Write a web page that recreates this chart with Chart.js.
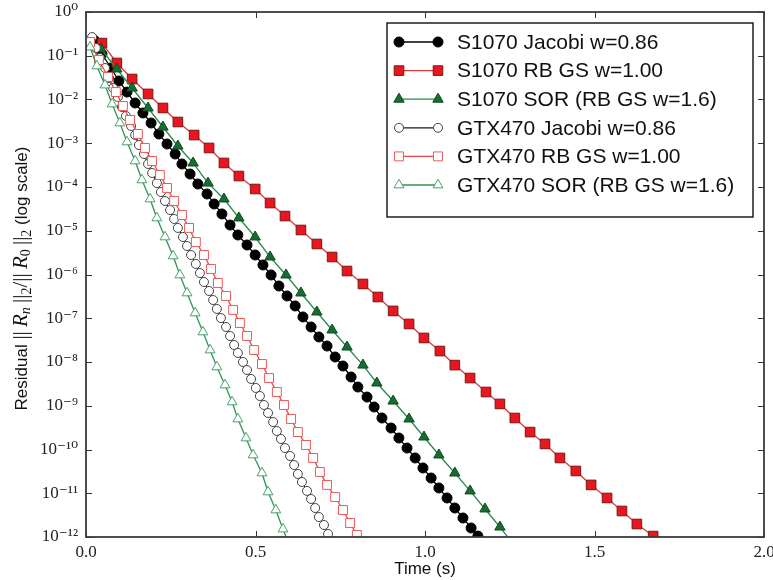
<!DOCTYPE html>
<html>
<head>
<meta charset="utf-8">
<script src="https://cdn.jsdelivr.net/npm/chart.js@4/dist/chart.umd.min.js"></script>
<style>
html,body{margin:0;padding:0;background:#fff;}
#wrap{width:773px;height:580px;}
</style>
</head>
<body>
<div id="wrap"><canvas id="c" width="773" height="580"></canvas></div>
<script>
// ---------------- data ----------------
const seriesLabels = [
  'S1070 Jacobi w=0.86',
  'S1070 RB GS w=1.00',
  'S1070 SOR (RB GS w=1.6)',
  'GTX470 Jacobi w=0.86',
  'GTX470 RB GS w=1.00',
  'GTX470 SOR (RB GS w=1.6)'
];

const s1070JacobiTime = [0.024,0.047,0.074,0.097,0.121,0.145,0.168,0.192,0.215,0.239,0.263,0.283,0.307,0.330,0.357,0.378,0.401,0.425,0.448,0.475,0.499,0.522,0.546,0.569,0.593,0.617,0.640,0.664,0.687,0.711,0.735,0.758,0.782,0.802,0.829,0.850,0.873,0.900,0.923,0.947,0.971,0.994,1.018,1.041,1.065,1.088,1.112,1.136,1.156];
const s1070JacobiResidual = [0.229,0.1096,0.0525,0.0265,0.0148,8.32e-3,4.91e-3,2.90e-3,1.63e-3,9.6e-4,5.68e-4,3.36e-4,1.98e-4,1.17e-4,6.92e-5,4.09e-5,2.42e-5,1.35e-5,8.0e-6,4.72e-6,2.79e-6,1.65e-6,9.75e-7,5.46e-7,3.23e-7,1.91e-7,1.07e-7,6.31e-8,3.73e-8,2.32e-8,1.30e-8,8.1e-9,4.54e-9,2.68e-9,1.58e-9,9.36e-10,5.25e-10,3.10e-10,1.83e-10,1.08e-10,6.4e-11,3.78e-11,2.23e-11,1.32e-11,7.8e-12,4.6e-12,2.72e-12,1.61e-12,1.05e-12];

const s1070RbgsTime = [0.047,0.091,0.136,0.183,0.227,0.271,0.319,0.363,0.407,0.451,0.499,0.543,0.587,0.634,0.681,0.726,0.770,0.817,0.861,0.906,0.953,0.997,1.044,1.088,1.133,1.180,1.221,1.265,1.310,1.354,1.398,1.445,1.490,1.537,1.581,1.625,1.673];
const s1070RbgsResidual = [0.195,0.0683,0.0294,0.0134,6.4e-3,3.06e-3,1.54e-3,7.8e-4,3.54e-4,1.78e-4,9.0e-5,4.3e-5,2.17e-5,1.04e-5,4.98e-6,2.51e-6,1.2e-6,6.07e-7,3.06e-7,1.47e-7,7.4e-8,3.54e-8,1.78e-8,8.5e-9,4.3e-9,2.06e-9,1.1e-9,5.25e-10,2.5e-10,1.34e-10,6.4e-11,3.23e-11,1.55e-11,7.8e-12,3.93e-12,1.98e-12,1.05e-12];

const s1070SorTime = [0.044,0.091,0.136,0.183,0.227,0.271,0.316,0.360,0.407,0.451,0.499,0.543,0.590,0.634,0.681,0.726,0.770,0.817,0.858,0.906,0.953,0.997,1.041,1.088,1.133,1.177,1.221,1.265];
const s1070SorResidual = [0.1426,0.0498,0.0183,6.4e-3,2.35e-3,8.65e-4,3.54e-4,1.23e-4,5.32e-5,1.96e-5,7.2e-6,2.51e-6,9.75e-7,3.78e-7,1.39e-7,5.39e-8,2.2e-8,8.5e-9,3.31e-9,1.28e-9,4.98e-10,1.93e-10,7.5e-11,2.9e-11,1.13e-11,4.37e-12,1.69e-12,6.2e-13];

const gtx470JacobiTime = [0.018,0.029,0.041,0.056,0.068,0.080,0.094,0.106,0.118,0.133,0.145,0.156,0.171,0.183,0.195,0.209,0.221,0.233,0.248,0.260,0.271,0.286,0.298,0.310,0.324,0.336,0.348,0.363,0.375,0.386,0.398,0.413,0.425,0.437,0.448,0.463,0.475,0.487,0.501,0.513,0.525,0.537,0.552,0.563,0.575,0.587,0.602,0.614,0.625,0.637,0.652,0.664,0.676,0.687,0.702,0.714];
const gtx470JacobiResidual = [0.268,0.150,0.0888,0.0525,0.0310,0.0183,0.0114,6.74e-3,4.20e-3,2.48e-3,1.54e-3,9.12e-4,5.68e-4,3.36e-4,2.09e-4,1.23e-4,7.69e-5,4.79e-5,2.98e-5,1.86e-5,1.16e-5,7.2e-6,4.48e-6,2.79e-6,1.74e-6,1.08e-6,6.74e-7,4.20e-7,2.61e-7,1.63e-7,1.01e-7,6.31e-8,3.93e-8,2.45e-8,1.61e-8,1.0e-8,6.56e-9,4.09e-9,2.55e-9,1.67e-9,1.04e-9,6.83e-10,4.25e-10,2.65e-10,1.74e-10,1.08e-10,7.1e-11,4.42e-11,2.75e-11,1.81e-11,1.13e-11,7.4e-12,4.6e-12,2.86e-12,1.88e-12,1.17e-12];

const gtx470RbgsTime = [0.012,0.038,0.065,0.088,0.109,0.130,0.153,0.174,0.195,0.218,0.239,0.260,0.283,0.304,0.324,0.348,0.369,0.389,0.413,0.434,0.454,0.475,0.496,0.519,0.540,0.563,0.584,0.605,0.625,0.649,0.670,0.690,0.711,0.735,0.758,0.779,0.799];
const gtx470RbgsResidual = [0.206,0.080,0.0327,0.0148,7.1e-3,3.40e-3,1.63e-3,7.8e-4,3.93e-4,1.88e-4,9.5e-5,4.79e-5,2.29e-5,1.16e-5,5.53e-6,2.79e-6,1.34e-6,6.4e-7,3.23e-7,1.55e-7,7.8e-8,3.93e-8,1.88e-8,9.0e-9,4.3e-9,2.06e-9,1.04e-9,4.98e-10,2.51e-10,1.27e-10,6.4e-11,3.06e-11,1.55e-11,8.2e-12,4.14e-12,2.09e-12,1.11e-12];

const gtx470SorTime = [0.012,0.032,0.056,0.077,0.100,0.121,0.145,0.165,0.189,0.209,0.233,0.257,0.277,0.298,0.322,0.345,0.366,0.386,0.410,0.431,0.448,0.472,0.493,0.519,0.537,0.560,0.581,0.602];
const gtx470SorResidual = [0.158,0.0583,0.0214,7.9e-3,2.90e-3,1.07e-3,3.93e-4,1.45e-4,5.32e-5,1.96e-5,7.2e-6,2.65e-6,9.75e-7,3.78e-7,1.32e-7,4.85e-8,1.88e-8,7.7e-9,2.98e-9,1.22e-9,4.98e-10,1.83e-10,7.5e-11,2.9e-11,1.07e-11,4.14e-12,1.52e-12,5.9e-13];

const xTickValues = [0.0, 0.5, 1.0, 1.5, 2.0];
const yTickValues = [1, 1e-1, 1e-2, 1e-3, 1e-4, 1e-5, 1e-6, 1e-7, 1e-8, 1e-9, 1e-10, 1e-11, 1e-12];
const xAxisTitle = 'Time (s)';

// ---------------- styles ----------------
const seriesStyles = [
  {line:'#000000', fill:'#000000', edge:'#000000', shape:'circle',   r:5.0},
  {line:'#d63a3a', fill:'#e8161e', edge:'#7c1414', shape:'rect',     r:6.8},
  {line:'#2b8a4c', fill:'#176d31', edge:'#0e4a20', shape:'triangle', r:6.0},
  {line:'#1a1a1a', fill:'#ffffff', edge:'#444444', shape:'circle',   r:4.5},
  {line:'#e04848', fill:'#ffffff', edge:'#e85a5a', shape:'rect',     r:6.3},
  {line:'#2f9455', fill:'#ffffff', edge:'#47a36a', shape:'triangle', r:5.7}
];

const seriesData = [
  [s1070JacobiTime, s1070JacobiResidual],
  [s1070RbgsTime, s1070RbgsResidual],
  [s1070SorTime, s1070SorResidual],
  [gtx470JacobiTime, gtx470JacobiResidual],
  [gtx470RbgsTime, gtx470RbgsResidual],
  [gtx470SorTime, gtx470SorResidual]
];

const datasets = seriesData.map((pair, i) => {
  const st = seriesStyles[i];
  return {
    label: seriesLabels[i],
    data: pair[0].map((t, k) => ({x: t, y: pair[1][k]})),
    borderColor: st.line,
    borderWidth: 1.3,
    backgroundColor: st.fill,
    pointBackgroundColor: st.fill,
    pointBorderColor: st.edge,
    pointBorderWidth: 1,
    pointStyle: st.shape,
    pointRadius: st.r,
    pointHoverRadius: st.r,
    tension: 0,
    fill: false,
    order: seriesData.length - 1 - i
  };
});

const supMap = {'0':'\u2070','1':'\u00B9','2':'\u00B2','3':'\u00B3','4':'\u2074','5':'\u2075','6':'\u2076','7':'\u2077','8':'\u2078','9':'\u2079','-':'\u207B'};
function powerLabel(v) {
  const e = Math.round(Math.log10(v));
  return '10' + String(e).split('').map(c => supMap[c]).join('');
}

const SERIF = "'Liberation Serif','DejaVu Serif',serif";
const SANS = "'Liberation Sans',Arial,'DejaVu Sans',sans-serif";

// frame + inward ticks
const framePlugin = {
  id: 'frameTicks',
  afterDatasetsDraw(chart) {
    const {ctx, chartArea: a, scales} = chart;
    ctx.save();
    ctx.strokeStyle = '#333333';
    ctx.lineWidth = 1;
    const tl = 6;
    ctx.beginPath();
    yTickValues.forEach(v => {
      const py = Math.round(scales.y.getPixelForValue(v)) + 0.5;
      ctx.moveTo(a.left, py); ctx.lineTo(a.left + tl, py);
      ctx.moveTo(a.right, py); ctx.lineTo(a.right - tl, py);
    });
    xTickValues.forEach(v => {
      const px = Math.round(scales.x.getPixelForValue(v)) + 0.5;
      ctx.moveTo(px, a.bottom); ctx.lineTo(px, a.bottom - tl);
      ctx.moveTo(px, a.top); ctx.lineTo(px, a.top + tl);
    });
    ctx.stroke();
    ctx.lineWidth = 1.8;
    ctx.strokeStyle = '#3a3a3a';
    ctx.strokeRect(a.left, a.top, a.right - a.left, a.bottom - a.top);
    ctx.restore();
  }
};

function drawMarker(ctx, st, x, y) {
  ctx.fillStyle = st.fill;
  ctx.strokeStyle = st.edge;
  ctx.lineWidth = 1;
  if (Chart.helpers && Chart.helpers.drawPoint) {
    Chart.helpers.drawPoint(ctx, {pointStyle: st.shape, rotation: 0, radius: st.r, borderWidth: 1}, x, y);
  } else {
    ctx.beginPath(); ctx.arc(x, y, st.r, 0, Math.PI * 2); ctx.fill(); ctx.stroke();
  }
}

// legend box inside the plot, upper right
const legendPlugin = {
  id: 'boxLegend',
  afterDraw(chart) {
    const {ctx, chartArea: a} = chart;
    const w = 366, h = 194;
    const x0 = a.right - 11 - w, y0 = a.top + 11;
    ctx.save();
    ctx.fillStyle = '#ffffff';
    ctx.fillRect(x0, y0, w, h);
    ctx.strokeStyle = '#111111';
    ctx.lineWidth = 1.4;
    ctx.strokeRect(x0, y0, w, h);
    chart.data.datasets.forEach((ds, i) => {
      const st = seriesStyles[i];
      const cy = y0 + 19 + i * 28.6;
      const lx1 = x0 + 12, lx2 = x0 + 51;
      ctx.strokeStyle = st.line;
      ctx.lineWidth = 1.3;
      ctx.beginPath(); ctx.moveTo(lx1, cy); ctx.lineTo(lx2, cy); ctx.stroke();
      drawMarker(ctx, st, lx1, cy);
      drawMarker(ctx, st, lx2, cy);
      ctx.fillStyle = '#111111';
      ctx.font = '21px ' + SANS;
      ctx.textAlign = 'left';
      ctx.textBaseline = 'middle';
      ctx.fillText(ds.label, x0 + 70, cy + 1);
    });
    ctx.restore();
  }
};

// rotated y-axis title with math-style parts
const yTitlePlugin = {
  id: 'yTitle',
  afterDraw(chart) {
    const {ctx, chartArea: a} = chart;
    const parts = [
      {t:'Residual ', f:'17px ' + SANS, dy:0},
      {t:'||\u2009', f:'21px ' + SERIF, dy:0},
      {t:'R', f:'italic 21px ' + SERIF, dy:0},
      {t:'n', f:'italic 14px ' + SERIF, dy:3},
      {t:'\u2009||', f:'21px ' + SERIF, dy:0},
      {t:'2', f:'14px ' + SERIF, dy:4},
      {t:'/', f:'21px ' + SERIF, dy:0},
      {t:'||\u2009', f:'21px ' + SERIF, dy:0},
      {t:'R', f:'italic 21px ' + SERIF, dy:0},
      {t:'0', f:'14px ' + SERIF, dy:3},
      {t:'\u2009||', f:'21px ' + SERIF, dy:0},
      {t:'2', f:'14px ' + SERIF, dy:4},
      {t:' (log scale)', f:'17px ' + SANS, dy:0}
    ];
    ctx.save();
    let total = 0;
    parts.forEach(p => { ctx.font = p.f; p.w = ctx.measureText(p.t).width; total += p.w; });
    const cy = (a.top + a.bottom) / 2 + 4;
    ctx.translate(27, cy);
    ctx.rotate(-Math.PI / 2);
    ctx.fillStyle = '#111111';
    ctx.textBaseline = 'alphabetic';
    ctx.textAlign = 'left';
    let x = -total / 2;
    parts.forEach(p => {
      ctx.font = p.f;
      ctx.fillText(p.t, x, p.dy);
      x += p.w;
    });
    ctx.restore();
  }
};

new Chart(document.getElementById('c').getContext('2d'), {
  type: 'line',
  data: {datasets},
  options: {
    responsive: false,
    animation: false,
    devicePixelRatio: 1,
    layout: {padding: {left: 0, right: 9, top: 12, bottom: 0}},
    plugins: {legend: {display: false}, tooltip: {enabled: false}},
    elements: {line: {borderJoinStyle: 'round'}},
    scales: {
      x: {
        type: 'linear', min: 0, max: 2,
        grid: {display: false, drawTicks: false},
        border: {display: false},
        afterBuildTicks: s => { s.ticks = xTickValues.map(v => ({value: v})); },
        afterFit: s => { s.height = 43; s.paddingLeft = 0; s.paddingRight = 0; },
        ticks: {
          callback: v => Number(v).toFixed(1),
          font: {family: SERIF, size: 17},
          color: '#222222', padding: 5, maxRotation: 0, autoSkip: false
        },
        title: {display: true, text: xAxisTitle, font: {family: SANS, size: 17}, color: '#111111', padding: {top: 0, bottom: 0}}
      },
      y: {
        type: 'logarithmic', min: 1e-12, max: 1,
        grid: {display: false, drawTicks: false},
        border: {display: false},
        afterBuildTicks: s => { s.ticks = yTickValues.map(v => ({value: v})); },
        afterFit: s => { s.width = 86; s.paddingTop = 0; s.paddingBottom = 0; },
        ticks: {
          callback: v => powerLabel(v),
          font: {family: SERIF, size: 17},
          color: '#222222', padding: 8, autoSkip: false
        }
      }
    }
  },
  plugins: [framePlugin, legendPlugin, yTitlePlugin]
});
</script>
</body>
</html>
